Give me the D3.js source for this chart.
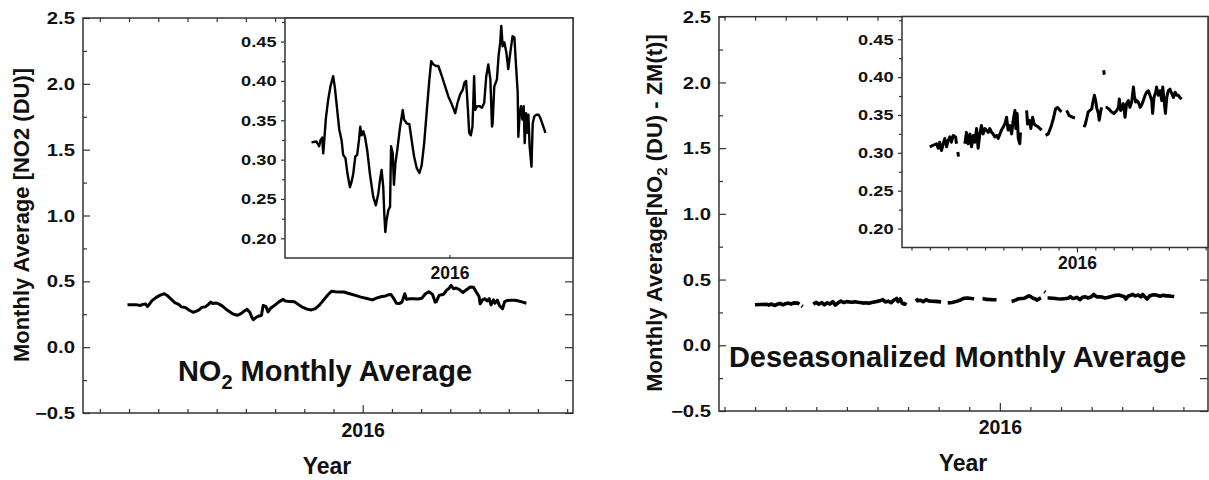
<!DOCTYPE html>
<html>
<head>
<meta charset="utf-8">
<script src="https://cdn.jsdelivr.net/npm/d3@7"></script>
<style>
  body { margin: 0; background: #fff; }
  svg text { font-family: "Liberation Sans", Arial, sans-serif; font-weight: bold; fill: #111; }
</style>
</head>
<body>
<svg id="chart" width="1209" height="480"></svg>
<script>
// NO2 running monthly average (DU), time in decimal years
const no2Times = [
  2015.329,2015.353,2015.366,2015.373,2015.381,2015.386,2015.390,2015.399,2015.410,2015.421,
  2015.434,2015.442,2015.454,2015.464,2015.475,2015.483,2015.494,2015.504,2015.516,2015.524,
  2015.532,2015.542,2015.551,2015.560,2015.566,2015.573,2015.581,2015.589,2015.600,2015.613,
  2015.629,2015.642,2015.654,2015.662,2015.670,2015.678,2015.683,2015.688,2015.694,2015.703,
  2015.711,2015.716,2015.724,2015.730,2015.737,2015.747,2015.760,2015.773,2015.779,2015.792,
  2015.805,2015.816,2015.828,2015.841,2015.854,2015.865,2015.877,2015.890,2015.901,2015.911,
  2015.922,2015.935,2015.946,2015.963,2015.979,2015.995,2016.012,2016.028,2016.039,2016.052,
  2016.065,2016.073,2016.081,2016.090,2016.096,2016.104,2016.112,2016.120,2016.125,2016.134,
  2016.146,2016.158,2016.169,2016.179,2016.189,2016.199,2016.207,2016.210,2016.218,2016.231,
  2016.239,2016.247,2016.252,2016.259,2016.267,2016.277,2016.286,2016.296,2016.307,2016.316,
  2016.324,2016.332,2016.335,2016.342,2016.348,2016.355,2016.361,2016.366,2016.373,2016.377,
  2016.384,2016.390,2016.399,2016.405,2016.413,2016.423,2016.434,2016.442,2016.454,2016.467
];
const no2Values = [
  0.322,0.323,0.317,0.325,0.328,0.308,0.321,0.353,0.376,0.393,
  0.406,0.393,0.363,0.338,0.325,0.306,0.302,0.282,0.265,0.272,
  0.282,0.304,0.306,0.325,0.342,0.331,0.336,0.329,0.312,0.282,
  0.253,0.242,0.257,0.274,0.287,0.265,0.231,0.208,0.223,0.236,
  0.240,0.317,0.308,0.268,0.295,0.314,0.342,0.363,0.351,0.346,
  0.345,0.325,0.304,0.289,0.283,0.293,0.321,0.363,0.398,0.425,
  0.421,0.419,0.419,0.406,0.393,0.380,0.370,0.359,0.372,0.383,
  0.389,0.398,0.400,0.363,0.334,0.331,0.342,0.406,0.363,0.368,
  0.368,0.366,0.372,0.406,0.421,0.402,0.342,0.346,0.393,0.402,
  0.432,0.449,0.470,0.444,0.449,0.436,0.415,0.436,0.457,0.455,
  0.419,0.385,0.329,0.359,0.368,0.351,0.368,0.321,0.359,0.334,
  0.357,0.317,0.291,0.346,0.355,0.357,0.357,0.353,0.344,0.334
];

// Deseasonalized monthly average NO2 - ZM(t); null marks a break in the record
const deTimes = [
  2015.333,2015.348,2015.363,2015.371,2015.378,2015.386,2015.394,2015.401,2015.409,2015.416,2015.424,2015.431,2015.439,2015.450,2015.454,
  2015.457,
  2015.460,2015.463,
  2015.478,
  2015.492,2015.499,2015.507,2015.515,2015.522,2015.530,2015.537,2015.545,2015.552,2015.560,2015.567,2015.575,2015.583,2015.590,2015.598,2015.605,
  2015.613,2015.620,2015.628,2015.636,2015.643,2015.651,2015.658,2015.666,
  2015.673,2015.681,2015.688,2015.696,2015.704,2015.711,2015.719,2015.723,2015.729,2015.734,2015.741,2015.744,
  2015.758,
  2015.772,2015.776,2015.784,2015.791,2015.799,2015.806,2015.814,2015.825,2015.840,
  2015.849,
  2015.858,2015.870,2015.882,2015.893,2015.903,2015.912,2015.923,2015.930,
  2015.941,
  2015.953,2015.965,2015.980,2015.991,
  2016.012,
  2016.032,2016.038,2016.044,2016.051,2016.059,2016.067,2016.071,2016.079,2016.085,2016.089,2016.097,2016.101,2016.107,2016.112,
  2016.117,
  2016.121,2016.124,
  2016.126,
  2016.130,2016.135,2016.145,2016.157,2016.168,
  2016.180,2016.188,2016.192,2016.198,2016.206,2016.210,2016.218,2016.225,2016.233,2016.240,2016.248,
  2016.256,2016.260,2016.266,2016.271,2016.278,2016.286,2016.293,2016.301,2016.309,2016.316,2016.324,
  2016.339,2016.343,2016.349,2016.357,2016.361,2016.369,2016.377,2016.384,2016.389,2016.395,2016.401,
  2016.407,2016.414,2016.422,2016.430,2016.437,2016.445,2016.452,2016.460,2016.467,2016.475
];
const deValues = [
  0.308,0.310,0.312,0.306,0.314,0.303,0.312,0.319,0.308,0.316,0.321,0.314,0.323,0.321,0.312,
  null,
  0.301,0.295,
  null,
  0.312,0.327,0.312,0.325,0.308,0.323,0.314,0.332,0.306,0.325,0.336,0.325,0.332,0.330,0.327,0.332,
  0.327,0.325,0.321,0.323,0.319,0.325,0.330,0.334,
  0.338,0.347,0.330,0.336,0.325,0.343,0.356,0.332,0.352,0.319,0.312,0.327,
  null,
  0.356,0.338,0.343,0.332,0.347,0.338,0.336,0.334,0.330,
  null,
  0.323,0.325,0.334,0.345,0.358,0.360,0.356,0.354,
  null,
  0.356,0.349,0.347,0.346,
  null,
  0.334,0.338,0.345,0.354,0.356,0.358,0.365,0.376,0.369,0.360,0.352,0.343,0.354,0.360,
  null,
  0.409,0.403,
  null,
  0.360,0.360,0.358,0.354,0.352,
  0.356,0.360,0.371,0.356,0.360,0.365,0.347,0.365,0.369,0.360,0.367,
  0.387,0.376,0.367,0.369,0.367,0.360,0.363,0.369,0.376,0.380,0.382,
  0.369,0.352,0.373,0.380,0.387,0.376,0.382,0.369,0.387,0.369,0.352,
  0.373,0.382,0.384,0.378,0.373,0.380,0.376,0.376,0.373,0.371
];

// Axis tick values
const yTicksMain = [-0.5, 0.0, 0.5, 1.0, 1.5, 2.0, 2.5];
const yTicksInset = [0.20, 0.25, 0.30, 0.35, 0.40, 0.45];
const yearTick = 2016;

const FRAME = "#333";
const svg = d3.select("#chart");

const no2Data = no2Times.map((t, i) => [t, no2Values[i]]);
const deData = deTimes.map((t, i) => [t, deValues[i]]);

const isYear = t => Math.abs(t - yearTick) < 1e-6;

// one tick per calendar month inside the domain
function monthValues(dom) {
  const out = [];
  for (let m = Math.ceil(dom[0] * 12 - 1e-6); m <= Math.floor(dom[1] * 12 + 1e-6); m++) out.push(m / 12);
  return out;
}
// minor ticks halfway between major ones
function midpoints(vals) {
  const out = [];
  for (let i = 0; i < vals.length - 1; i++) out.push((vals[i] + vals[i + 1]) / 2);
  return out;
}
function tidy(g) {
  g.attr("font-family", null).attr("font-size", null);
  g.select(".domain").remove();
  g.selectAll("line").attr("stroke", FRAME).attr("stroke-width", 1.2);
}
// horizontally widened tick labels, right-aligned a fixed gap from the axis
function wideLabels(g, gap, size, sx) {
  g.selectAll("text")
    .attr("x", 0).attr("dy", "0.35em")
    .attr("text-anchor", "end")
    .attr("transform", `translate(${-gap},0) scale(${sx},1)`)
    .style("font-size", size + "px");
}
function seriesPath(g, data, x, y, width) {
  g.append("path")
    .datum(data)
    .attr("fill", "none")
    .attr("stroke", "#000")
    .attr("stroke-width", width)
    .attr("stroke-linejoin", "round")
    .attr("d", d3.line().defined(d => d[1] !== null).x(d => x(d[0])).y(d => y(d[1])));
}
function frame(g, left, top, right, bottom) {
  g.append("rect")
    .attr("x", left).attr("y", top)
    .attr("width", right - left).attr("height", bottom - top)
    .attr("fill", "none").attr("stroke", FRAME).attr("stroke-width", 1.5);
}

function drawMain(cfg) {
  const { left, right, top, bottom, xDomain, yearLabelY, lineWidth, data } = cfg;
  const x = d3.scaleLinear().domain(xDomain).range([left, right]);
  const y = d3.scaleLinear().domain([-0.5, 2.5]).range([bottom, top]);
  const g = svg.append("g");
  const months = monthValues(xDomain);
  const yMinor = midpoints(yTicksMain);

  // bottom axis: monthly ticks, year label
  g.append("g").attr("transform", `translate(0,${bottom})`)
    .call(d3.axisBottom(x).tickValues(months).tickSize(-4).tickSizeOuter(0)
      .tickFormat(t => isYear(t) ? String(yearTick) : ""))
    .call(tidy)
    .call(a => a.selectAll(".tick").filter(d => isYear(d)).select("line").attr("y2", -8))
    .call(a => a.selectAll("text").attr("y", yearLabelY).attr("dy", null).style("font-size", "19.5px"));

  // top mirror ticks
  g.append("g").attr("transform", `translate(0,${top})`)
    .call(d3.axisTop(x).tickValues(months).tickSize(-4).tickSizeOuter(0).tickFormat(""))
    .call(tidy)
    .call(a => a.selectAll(".tick").filter(d => isYear(d)).select("line").attr("y2", 7));

  // left axis with labels, plus minor ticks
  g.append("g").attr("transform", `translate(${left},0)`)
    .call(d3.axisLeft(y).tickValues(yTicksMain).tickSize(-7).tickSizeOuter(0).tickFormat(d3.format(".1f")))
    .call(tidy)
    .call(a => wideLabels(a, 8, 16, 1.27));
  g.append("g").attr("transform", `translate(${left},0)`)
    .call(d3.axisLeft(y).tickValues(yMinor).tickSize(-4).tickSizeOuter(0).tickFormat(""))
    .call(tidy);

  // right mirror ticks
  g.append("g").attr("transform", `translate(${right},0)`)
    .call(d3.axisRight(y).tickValues(yTicksMain.concat(yMinor)).tickSize(-8).tickSizeOuter(0).tickFormat(""))
    .call(tidy);

  seriesPath(g, data, x, y, lineWidth);
  frame(g, left, top, right, bottom);
}

function drawInset(cfg) {
  const { left, right, top, bottom, xDomain, monthTicks, yearLabelY, lineWidth, data } = cfg;
  const x = d3.scaleLinear().domain(xDomain).range([left, right]);
  const y = d3.scaleLinear().domain([0.175, 0.48]).range([bottom, top]);
  const g = svg.append("g");
  const yMinor = midpoints(yTicksInset).concat([yTicksInset[yTicksInset.length - 1] + 0.025]);

  g.append("rect")
    .attr("x", left).attr("y", top)
    .attr("width", right - left).attr("height", bottom - top)
    .attr("fill", "#fff");

  seriesPath(g, data, x, y, lineWidth);

  // left axis, ticks pointing outward
  g.append("g").attr("transform", `translate(${left},0)`)
    .call(d3.axisLeft(y).tickValues(yTicksInset).tickSize(4).tickSizeOuter(0).tickFormat(d3.format(".2f")))
    .call(tidy)
    .call(a => wideLabels(a, 8.5, 14, 1.3));
  g.append("g").attr("transform", `translate(${left},0)`)
    .call(d3.axisLeft(y).tickValues(yMinor).tickSize(3).tickSizeOuter(0).tickFormat(""))
    .call(tidy);

  // bottom axis
  const xt = monthTicks ? monthValues(xDomain) : [yearTick];
  g.append("g").attr("transform", `translate(0,${bottom})`)
    .call(d3.axisBottom(x).tickValues(xt).tickSize(monthTicks ? 3 : -3).tickSizeOuter(0)
      .tickFormat(t => isYear(t) ? String(yearTick) : ""))
    .call(tidy)
    .call(a => { if (monthTicks) a.selectAll(".tick").filter(d => isYear(d)).select("line").attr("y2", 5); })
    .call(a => a.selectAll("text").attr("y", yearLabelY).attr("dy", null).style("font-size", "17.5px"));

  frame(g, left, top, right, bottom);
}

// Left panel: NO2 monthly average
drawMain({ left: 83, right: 573, top: 18, bottom: 413, xDomain: [2015.202, 2016.600], yearLabelY: 24, lineWidth: 3, data: no2Data });
drawInset({ left: 285, right: 573, top: 18, bottom: 258, xDomain: [2015.200, 2016.601], monthTicks: false, yearLabelY: 21, lineWidth: 2.4, data: no2Data });

// Right panel: deseasonalized monthly average
drawMain({ left: 719, right: 1208, top: 16.7, bottom: 411, xDomain: [2015.235, 2016.567], yearLabelY: 23, lineWidth: 3.6, data: deData });
drawInset({ left: 902, right: 1208, top: 16.5, bottom: 247.5, xDomain: [2015.207, 2016.594], monthTicks: true, yearLabelY: 21, lineWidth: 3, data: deData });

// Axis titles
svg.append("text").attr("x", 327).attr("y", 474).attr("text-anchor", "middle").style("font-size", "23px").text("Year");
svg.append("text").attr("x", 963).attr("y", 471).attr("text-anchor", "middle").style("font-size", "23px").text("Year");

svg.append("text")
  .attr("transform", "translate(29,215) rotate(-90)")
  .attr("text-anchor", "middle").style("font-size", "22px")
  .text("Monthly Average [NO2 (DU)]");

const yl2 = svg.append("text")
  .attr("transform", "translate(662,213) rotate(-90)")
  .attr("text-anchor", "middle").style("font-size", "22px");
yl2.append("tspan").text("Monthly Average[NO");
yl2.append("tspan").attr("dy", 5).style("font-size", "15px").text("2");
yl2.append("tspan").attr("dy", -5).text(" (DU) - ZM(t)]");

// Panel titles
const t1 = svg.append("text").attr("x", 325).attr("y", 380.7).attr("text-anchor", "middle").style("font-size", "29px");
t1.append("tspan").text("NO");
t1.append("tspan").attr("dy", 8).style("font-size", "20px").text("2");
t1.append("tspan").attr("dy", -8).text(" Monthly Average");

svg.append("text").attr("x", 957.5).attr("y", 367.3).attr("text-anchor", "middle").style("font-size", "29px")
  .text("Deseasonalized Monthly Average");
</script>
</body>
</html>
